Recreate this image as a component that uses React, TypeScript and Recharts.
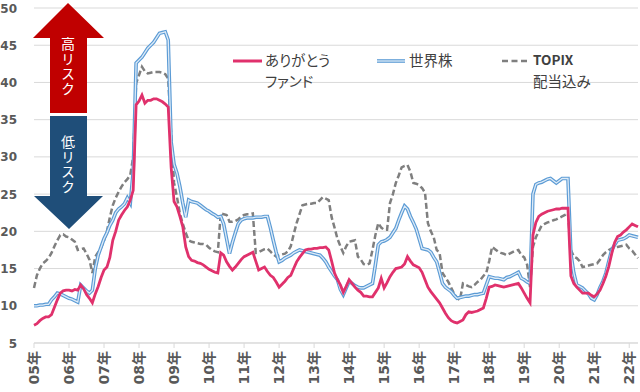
import React from "react";
import { LineChart, Line, XAxis, YAxis, CartesianGrid } from "recharts";

// monthly values, Jan 2005 .. Apr 2022
const yearLabels = [
  "05年", "06年", "07年", "08年", "09年", "10年", "11年", "12年", "13年",
  "14年", "15年", "16年", "17年", "18年", "19年", "20年", "21年", "22年",
];

const fund = [
  7.4, 7.6, 8.0, 8.3, 8.5, 8.5, 8.8, 9.8, 10.8, 11.7, 12.0, 12.1,
  12.1, 12.0, 12.2, 12.1, 12.8, 12.3, 11.5, 11.0, 10.4, 11.6, 12.6, 13.8,
  14.8, 15.2, 16.5, 18.8, 20.0, 21.5, 22.2, 22.8, 23.3, 24.2, 25.5, 37.0,
  37.5, 38.3, 37.2, 37.6, 37.6, 37.8, 37.8, 37.6, 37.4, 37.1, 36.7, 28.6,
  24.0, 23.3, 22.0, 20.6, 17.9, 16.6, 16.1, 16.0, 15.8, 15.7, 15.5, 15.2,
  14.9, 14.7, 14.5, 14.4, 17.1, 16.8, 15.9, 15.3, 14.8, 15.2, 15.7, 16.2,
  16.6, 16.8, 17.0, 17.2, 16.0, 14.8, 15.0, 15.2, 14.6, 14.1, 13.8, 13.2,
  12.5, 12.9, 13.3, 13.8, 14.1, 15.0, 15.9, 16.5, 17.0, 17.5, 17.6, 17.6,
  17.7, 17.7, 17.8, 17.8, 17.9, 17.5, 16.0, 14.4, 13.5, 12.8, 11.8, 12.6,
  13.5, 13.0, 12.5, 12.1, 11.8, 11.3, 11.3, 11.2, 11.2, 11.8, 12.4, 13.7,
  12.4, 13.1, 13.9, 14.5, 15.0, 15.1, 15.2, 15.6, 16.6, 16.0, 15.5, 15.3,
  15.1, 14.5, 13.5, 12.5, 11.9, 11.4, 10.9, 10.4, 9.7, 9.0, 8.4, 8.0,
  7.8, 7.7, 7.9, 8.1, 8.8, 9.2, 9.1, 9.2, 9.3, 9.5, 9.7, 11.0,
  12.5, 12.6, 12.8, 12.7, 12.6, 12.5, 12.6, 12.7, 12.8, 12.9, 13.0, 12.4,
  11.7, 11.0, 10.4, 19.5, 21.2, 22.0, 22.3, 22.5, 22.7, 22.8, 22.9, 23.0,
  23.0, 23.1, 23.1, 23.1, 14.0, 13.0, 12.5, 12.1, 11.7, 11.7, 11.7, 11.4,
  11.2, 11.6, 12.1, 13.0, 14.0, 15.3, 17.0, 18.5, 19.3, 19.5, 19.9, 20.2,
  20.6, 21.0, 20.8, 20.6,
];

const world = [
  10.0, 10.0, 10.1, 10.1, 10.2, 10.2, 10.8, 11.2, 11.7, 11.6, 11.4, 11.2,
  11.0, 10.9, 10.7, 10.5, 12.8, 12.4, 12.0, 11.7, 12.1, 15.0, 16.8, 17.9,
  19.0, 19.8, 20.8, 21.5, 22.5, 23.0, 23.3, 23.7, 24.5, 23.8, 28.0, 42.6,
  43.0, 43.4, 44.0, 44.6, 45.0, 45.4, 46.0, 46.6, 46.7, 46.8, 45.7, 32.0,
  29.0, 27.8, 26.0, 23.8, 21.9, 24.2, 24.0, 23.9, 23.8, 23.5, 23.2, 22.9,
  22.7, 22.4, 22.2, 21.9, 22.0, 21.0, 19.0, 17.0, 18.5, 19.8, 21.0, 21.5,
  21.7, 21.8, 21.8, 21.8, 21.9, 21.9, 21.9, 22.0, 22.0, 20.5, 18.8, 17.2,
  15.9, 16.1, 16.4, 16.6, 16.8, 17.1, 17.3, 17.5, 17.4, 17.3, 17.2, 17.1,
  17.0, 16.9, 16.8, 16.4, 15.9, 15.2, 14.6, 14.0, 13.5, 12.2, 11.5, 12.4,
  13.3, 13.0, 12.7, 12.5, 12.4, 12.4, 12.6, 12.8, 13.0, 15.5, 18.2, 18.6,
  18.7, 18.9, 19.2, 19.8, 20.4, 21.5, 22.5, 23.4, 23.0, 22.0, 21.2, 20.3,
  19.0, 17.7, 17.6, 17.5, 17.2, 16.5, 15.9, 14.5, 13.0, 12.5, 12.2, 11.9,
  11.4, 11.0, 11.1, 11.2, 11.3, 11.3, 11.4, 11.5, 11.5, 11.6, 11.7, 12.8,
  13.9, 13.8, 13.7, 13.7, 13.6, 13.5, 13.8, 13.9, 14.1, 14.3, 14.5, 13.7,
  13.5, 13.2, 13.0, 25.0, 26.3, 26.5, 26.6, 26.8, 27.0, 27.1, 26.8, 26.5,
  26.8, 27.1, 27.1, 27.1, 17.0, 14.4, 12.8, 12.6, 12.4, 12.0, 11.6, 11.0,
  10.8, 11.5, 12.5, 13.3, 14.4, 16.0, 17.5, 18.2, 18.8, 18.9, 19.0, 19.2,
  19.5, 19.4, 19.3, 19.2,
];

const topix = [
  12.4, 14.1, 15.0, 15.7, 16.0, 16.4, 17.1, 18.0, 18.8, 19.5, 19.6, 19.3,
  19.2, 18.9, 18.6, 17.5, 17.6, 17.7, 17.0, 16.2, 14.4, 16.6, 17.2, 17.8,
  18.8, 20.0, 21.9, 23.5, 24.5, 25.3, 26.0, 26.6, 27.0, 27.6, 30.0, 39.9,
  41.0, 42.1, 41.5, 41.2, 41.3, 41.4, 41.4, 41.4, 41.3, 41.1, 40.5, 33.0,
  26.5, 24.6, 22.4, 21.0, 19.8, 18.8, 18.6, 18.5, 18.4, 18.3, 18.3, 18.2,
  17.8, 17.5, 17.3, 17.2, 22.4, 22.3, 22.2, 21.3, 21.3, 21.4, 21.6, 22.0,
  22.2, 22.3, 22.3, 22.4, 17.1, 17.2, 17.4, 17.6, 17.7, 17.3, 16.9, 16.6,
  16.8, 16.9, 17.0, 17.3, 18.0, 19.6, 21.1, 22.3, 23.5, 23.6, 23.7, 23.7,
  23.8, 23.8, 24.2, 24.6, 24.4, 24.2, 21.9, 20.5, 19.0, 18.0, 17.1, 18.0,
  18.6, 18.7, 18.8, 16.6, 16.2, 15.6, 15.5, 15.7, 17.5, 19.5, 21.1, 20.5,
  20.2, 20.2, 23.8, 25.0, 26.5, 27.5, 28.6, 28.8, 28.9, 28.0, 26.5, 26.4,
  26.2, 25.8, 25.2, 21.1, 20.0, 19.2, 17.5, 17.1, 14.4, 13.8, 13.2, 12.4,
  11.6, 11.0, 10.8, 13.0, 12.8, 12.6, 12.5, 12.8, 13.2, 13.5, 14.0, 14.4,
  16.0, 17.9, 17.6, 17.3, 17.1, 17.0, 16.8, 17.0, 17.2, 17.4, 17.5, 16.8,
  16.5, 15.5, 12.5, 17.9, 19.2, 20.0, 20.8, 21.0, 21.2, 21.3, 21.5, 21.6,
  21.8, 22.0, 22.2, 22.4, 17.5, 16.6, 16.4, 16.0, 15.2, 15.3, 15.4, 15.5,
  15.6, 15.7, 16.2, 16.8, 17.2, 17.5, 17.7, 17.8, 17.9, 18.0, 18.1, 18.2,
  17.7, 17.4, 16.9, 16.4,
];

const yTicks = [5, 10, 15, 20, 25, 30, 35, 40, 45, 50];

const data = fund.map((v, i) => ({
  idx: i,
  fund: v,
  world: world[i],
  topix: topix[i],
}));
const yearTicks = yearLabels.map((_, i) => i * 12);

const JP = '"Noto Sans CJK JP", "Noto Sans", sans-serif';

const XTick = (props: any) => {
  const { x, y, payload } = props;
  const label = yearLabels[Math.round(payload.value / 12)];
  const bx = x + 5;
  const by = y + 1;
  return (
    <text
      x={bx}
      y={by}
      transform={`rotate(-90, ${bx}, ${by})`}
      textAnchor="end"
      fill="#595959"
      fontSize={14}
      fontWeight="bold"
      fontFamily={'"DejaVu Sans", "Noto Sans CJK JP", sans-serif'}
    >
      {label}
    </text>
  );
};

const YTick = (props: any) => {
  const { y, payload } = props;
  return (
    <text
      x={17}
      y={y + 4.5}
      textAnchor="end"
      fill="#595959"
      fontSize={12}
      fontWeight="bold"
      fontFamily={'"DejaVu Sans", sans-serif'}
    >
      {payload.value}
    </text>
  );
};

// vertical (tategaki) label inside the arrows
const VLabel = ({ text, x, y }: { text: string; x: number; y: number }) => (
  <text
    x={x}
    y={y}
    fill="#ffffff"
    fontSize={14}
    fontFamily={JP}
    style={{ writingMode: "vertical-rl", letterSpacing: 1 }}
  >
    {text}
  </text>
);

const Overlay = () => (
  <svg
    width={640}
    height={392}
    style={{ position: "absolute", left: 0, top: 0, pointerEvents: "none" }}
  >
    {/* risk arrows */}
    <polygon points="68,3 104,38 87,38 87,113 50,113 50,38 33,38" fill="#C00000" />
    <VLabel text="高リスク" x={68} y={37} />
    <polygon points="50,116 87,116 87,196 103,196 69,229 34,196 50,196" fill="#1F4E79" />
    <VLabel text="低リスク" x={68} y={135} />

    {/* legend */}
    <g fontFamily={JP} fontSize={14.5} fill="#404040" style={{ fontFeatureSettings: '"palt"' }}>
      <line x1={233} y1={61} x2={262} y2={61} stroke="#E0316C" strokeWidth={3} />
      <text x={265} y={66}>ありがとう</text>
      <text x={265} y={87}>ファンド</text>

      <line x1={377} y1={61} x2={405} y2={61} stroke="#5B9BD5" strokeWidth={3.6} />
      <line x1={377} y1={61} x2={405} y2={61} stroke="#DEEBF7" strokeWidth={1.3} />
      <text x={409} y={66}>世界株</text>

      <line x1={502} y1={61} x2={528} y2={61} stroke="#7F7F7F" strokeWidth={2.5} strokeDasharray="6 3.5" />
      <text x={533} y={65} fontWeight="bold" fontSize={13.5}>TOPIX</text>
      <text x={533} y={87}>配当込み</text>
    </g>
  </svg>
);

export default function App() {
  return (
    <div
      style={{
        position: "absolute",
        left: 0,
        top: 0,
        width: 640,
        height: 392,
        background: "#ffffff",
      }}
    >
      <LineChart
        width={640}
        height={392}
        data={data}
        margin={{ top: 8, right: 2, left: 0, bottom: 0 }}
      >
        <CartesianGrid vertical={false} stroke="#D9D9D9" />
        <XAxis
          dataKey="idx"
          type="number"
          domain={[0, fund.length - 1]}
          ticks={yearTicks}
          interval={0}
          height={49}
          tickSize={5}
          axisLine={{ stroke: "#D9D9D9" }}
          tickLine={{ stroke: "#D9D9D9" }}
          tick={<XTick />}
        />
        <YAxis
          domain={[5, 50]}
          ticks={yTicks}
          interval={0}
          width={34}
          axisLine={false}
          tickLine={false}
          tick={<YTick />}
        />
        <Line
          dataKey="topix"
          stroke="#7F7F7F"
          strokeWidth={2.5}
          strokeDasharray="6 3"
          dot={false}
          isAnimationActive={false}
        />
        <Line
          dataKey="world"
          stroke="#5B9BD5"
          strokeWidth={3.6}
          dot={false}
          isAnimationActive={false}
        />
        <Line
          dataKey="world"
          stroke="#DEEBF7"
          strokeWidth={1.3}
          dot={false}
          legendType="none"
          isAnimationActive={false}
        />
        <Line
          dataKey="fund"
          stroke="#E0316C"
          strokeWidth={2.8}
          dot={false}
          isAnimationActive={false}
        />
      </LineChart>
      <Overlay />
    </div>
  );
}
